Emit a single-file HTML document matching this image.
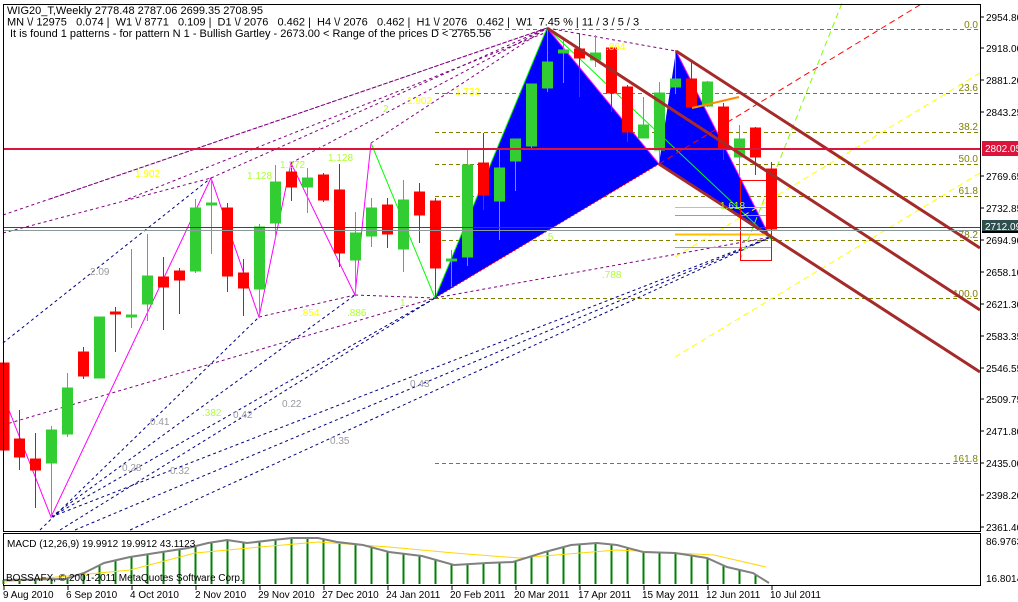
<!DOCTYPE html>
<html><head><meta charset="utf-8"><style>
body{margin:0;background:#fff}
svg{display:block}
text{font-family:"Liberation Sans",sans-serif}
</style></head><body>
<svg width="1018" height="602" viewBox="0 0 1018 602" xmlns="http://www.w3.org/2000/svg">
<rect width="1018" height="602" fill="#fff"/>
<!-- fib lines -->
<g stroke="#808000" stroke-dasharray="4,3" stroke-width="1">
<line x1="435" y1="29.5" x2="980" y2="29.5"/>
<line x1="435" y1="93.5" x2="980" y2="93.5"/>
<line x1="435" y1="132.5" x2="980" y2="132.5"/>
<line x1="435" y1="164.5" x2="980" y2="164.5"/>
<line x1="435" y1="196.5" x2="980" y2="196.5"/>
<line x1="435" y1="240.5" x2="980" y2="240.5"/>
<line x1="435" y1="298.5" x2="980" y2="298.5"/>
<line x1="435" y1="463.5" x2="980" y2="463.5"/>
</g>
<g fill="#808000" font-size="10" text-anchor="end">
<text x="978" y="28">0.0</text><text x="978" y="91">23.6</text><text x="978" y="130">38.2</text>
<text x="978" y="162">50.0</text><text x="978" y="194">61.8</text><text x="978" y="238">78.2</text>
<text x="978" y="297">100.0</text><text x="978" y="462">161.8</text>
</g>
<!-- purple dotted -->
<g stroke="#800080" stroke-dasharray="3,3" stroke-width="1" fill="none">
<line x1="50" y1="199" x2="547" y2="28"/>
<line x1="3" y1="215" x2="547" y2="28"/>
<line x1="128" y1="199" x2="547" y2="32"/>
<line x1="211" y1="178" x2="547" y2="28"/>
<line x1="291" y1="163" x2="547" y2="28"/>
<line x1="371" y1="143" x2="547" y2="28"/>
<line x1="3" y1="233" x2="211" y2="178"/>
<line x1="259" y1="317" x2="355" y2="295"/>
<line x1="355" y1="295" x2="435" y2="298"/>
<line x1="435" y1="298" x2="771" y2="237"/>
<line x1="3" y1="425" x2="435" y2="298"/>
<line x1="547" y1="28" x2="676" y2="51"/>
</g>
<!-- navy dashed -->
<g stroke="#000080" stroke-dasharray="3,3" stroke-width="1" fill="none">
<line x1="3" y1="343" x2="211" y2="178"/>
<line x1="40" y1="530" x2="259" y2="317"/>
<line x1="51" y1="517" x2="355" y2="295"/>
<line x1="51" y1="517" x2="435" y2="298"/>
<line x1="60" y1="530" x2="435" y2="298"/>
<line x1="75" y1="530" x2="771" y2="237"/>
<line x1="130" y1="530" x2="771" y2="237"/>
<line x1="51" y1="517" x2="771" y2="237"/>
</g>
<!-- blue triangles -->
<polygon points="435,298 547,28 659,164" fill="#0000ff"/>
<polygon points="659,164 676,51 771,239" fill="#0000ff"/>
<line x1="435" y1="298" x2="547" y2="28" stroke="#00ff00"/>
<line x1="547" y1="28" x2="659" y2="164" stroke="#ff00ff"/>
<line x1="676" y1="51" x2="771" y2="239" stroke="#ff00ff"/>
<line x1="435" y1="298" x2="659" y2="164" stroke="#ff0000" stroke-dasharray="2,2"/>
<line x1="547" y1="28" x2="771" y2="239" stroke="#00ff00" stroke-width="1"/>
<!-- zigzag -->
<polyline points="3,395 51,517 211,178 259,317 291,163 355,295 371,143" fill="none" stroke="#ff00ff"/>
<line x1="371" y1="143" x2="435" y2="298" stroke="#00ff00"/>
<!-- channel & rays -->
<line x1="659" y1="164" x2="923" y2="3" stroke="#ff0000" stroke-dasharray="6,4"/>
<line x1="740" y1="260" x2="842" y2="3" stroke="#7fff00" stroke-dasharray="6,4"/>
<line x1="675" y1="257" x2="980" y2="73" stroke="#ffff00" stroke-dasharray="6,4"/>
<line x1="675" y1="357" x2="980" y2="173" stroke="#ffff00" stroke-dasharray="6,4"/>
<!-- short horizontals -->
<line x1="675" y1="207.5" x2="771" y2="207.5" stroke="#ffc000"/>
<line x1="675" y1="215.5" x2="771" y2="215.5" stroke="#00e0e0"/>
<line x1="675" y1="234.5" x2="771" y2="234.5" stroke="#ffc000" stroke-width="2"/>
<line x1="675" y1="247.5" x2="771" y2="247.5" stroke="#00e0e0"/>
<!-- candles -->
<g id="c" stroke-width="1">
<g stroke="#ff0000" fill="#ff0000">
<line x1="3.5" y1="356" x2="3.5" y2="458"/><rect x="-1" y="363" width="10" height="87"/>
<line x1="19.5" y1="410" x2="19.5" y2="470"/><rect x="14.5" y="439" width="10" height="18"/>
<line x1="35.5" y1="433" x2="35.5" y2="508"/><rect x="30.5" y="459" width="10" height="11"/>
<line x1="83.5" y1="347" x2="83.5" y2="379"/><rect x="78.5" y="352" width="10" height="24"/>
<line x1="115.5" y1="307" x2="115.5" y2="352"/><rect x="110.5" y="312" width="10" height="2"/>
<line x1="163.5" y1="257" x2="163.5" y2="330"/><rect x="158.5" y="277" width="10" height="10"/>
<line x1="179.5" y1="268" x2="179.5" y2="314"/><rect x="174.5" y="271" width="10" height="9"/>
<line x1="227.5" y1="203" x2="227.5" y2="292"/><rect x="222.5" y="208" width="10" height="68"/>
<line x1="243.5" y1="259" x2="243.5" y2="316"/><rect x="238.5" y="273" width="10" height="15"/>
<line x1="291.5" y1="163" x2="291.5" y2="201"/><rect x="286.5" y="172" width="10" height="15"/>
<line x1="323.5" y1="173" x2="323.5" y2="202"/><rect x="318.5" y="175" width="10" height="25"/>
<line x1="339.5" y1="164" x2="339.5" y2="267"/><rect x="334.5" y="190" width="10" height="63"/>
<line x1="387.5" y1="198" x2="387.5" y2="248"/><rect x="382.5" y="205" width="10" height="29"/>
<line x1="419.5" y1="183" x2="419.5" y2="243"/><rect x="414.5" y="192" width="10" height="23"/>
<line x1="435.5" y1="198" x2="435.5" y2="298"/><rect x="430.5" y="201" width="10" height="67"/>
<line x1="483.5" y1="133" x2="483.5" y2="210"/><rect x="478.5" y="163" width="10" height="32"/>
<line x1="579.5" y1="33" x2="579.5" y2="97"/><rect x="574.5" y="49" width="10" height="9"/>
<line x1="611.5" y1="48" x2="611.5" y2="112"/><rect x="606.5" y="48" width="10" height="45"/>
<line x1="627.5" y1="85" x2="627.5" y2="142"/><rect x="622.5" y="87" width="10" height="45"/>
<line x1="691.5" y1="62" x2="691.5" y2="107"/><rect x="686.5" y="79" width="10" height="28"/>
<line x1="723.5" y1="103" x2="723.5" y2="160"/><rect x="718.5" y="107" width="10" height="41"/>
<line x1="755.5" y1="127" x2="755.5" y2="175"/><rect x="750.5" y="128" width="10" height="29"/>
<line x1="771.5" y1="162" x2="771.5" y2="233"/><rect x="766.5" y="169" width="10" height="60"/>
</g>
<g stroke="#32cd32" fill="#32cd32">
<line x1="51.5" y1="426" x2="51.5" y2="517"/><rect x="46.5" y="430" width="10" height="33"/>
<line x1="67.5" y1="373" x2="67.5" y2="437"/><rect x="62.5" y="388" width="10" height="46"/>
<line x1="99.5" y1="317" x2="99.5" y2="378"/><rect x="94.5" y="317" width="10" height="61"/>
<line x1="131.5" y1="249" x2="131.5" y2="328"/><rect x="126.5" y="315" width="10" height="2"/>
<line x1="147.5" y1="234" x2="147.5" y2="321"/><rect x="142.5" y="276" width="10" height="28"/>
<line x1="195.5" y1="199" x2="195.5" y2="273"/><rect x="190.5" y="208" width="10" height="63"/>
<line x1="211.5" y1="179" x2="211.5" y2="254"/><rect x="206.5" y="203" width="10" height="2"/>
<line x1="259.5" y1="224" x2="259.5" y2="317"/><rect x="254.5" y="227" width="10" height="62"/>
<line x1="275.5" y1="165" x2="275.5" y2="238"/><rect x="270.5" y="182" width="10" height="41"/>
<line x1="307.5" y1="168" x2="307.5" y2="213"/><rect x="302.5" y="178" width="10" height="9"/>
<line x1="355.5" y1="212" x2="355.5" y2="293"/><rect x="350.5" y="233" width="10" height="27"/>
<line x1="371.5" y1="198" x2="371.5" y2="247"/><rect x="366.5" y="208" width="10" height="28"/>
<line x1="403.5" y1="180" x2="403.5" y2="272"/><rect x="398.5" y="200" width="10" height="49"/>
<line x1="451.5" y1="250" x2="451.5" y2="287"/><rect x="446.5" y="259" width="10" height="2"/>
<line x1="467.5" y1="150" x2="467.5" y2="266"/><rect x="462.5" y="165" width="10" height="92"/>
<line x1="499.5" y1="148" x2="499.5" y2="240"/><rect x="494.5" y="168" width="10" height="33"/>
<line x1="515.5" y1="139" x2="515.5" y2="191"/><rect x="510.5" y="139" width="10" height="22"/>
<line x1="531.5" y1="84" x2="531.5" y2="150"/><rect x="526.5" y="84" width="10" height="62"/>
<line x1="547.5" y1="28" x2="547.5" y2="92"/><rect x="542.5" y="62" width="10" height="26"/>
<line x1="563.5" y1="37" x2="563.5" y2="83"/><rect x="558.5" y="50" width="10" height="3"/>
<line x1="595.5" y1="35" x2="595.5" y2="67"/><rect x="590.5" y="53" width="10" height="7"/>
<line x1="643.5" y1="97" x2="643.5" y2="138"/><rect x="638.5" y="125" width="10" height="13"/>
<line x1="659.5" y1="82" x2="659.5" y2="160"/><rect x="654.5" y="93" width="10" height="57"/>
<line x1="675.5" y1="50" x2="675.5" y2="94"/><rect x="670.5" y="79" width="10" height="8"/>
<line x1="707.5" y1="81" x2="707.5" y2="107"/><rect x="702.5" y="82" width="10" height="24"/>
<line x1="739.5" y1="125" x2="739.5" y2="177"/><rect x="734.5" y="139" width="10" height="18"/>
</g>
</g>
<!-- thick channel -->
<g stroke="#a52a2a" stroke-width="3">
<line x1="547" y1="28" x2="980" y2="310"/>
<line x1="676" y1="51" x2="980" y2="248"/>
<line x1="659" y1="164" x2="980" y2="372"/>
</g>
<line x1="692" y1="108" x2="739" y2="97" stroke="#ff8c00" stroke-width="2"/>
<rect x="740.5" y="180.5" width="31" height="80" fill="none" stroke="#ff0000"/>
<!-- horizontals -->
<line x1="3" y1="149" x2="980" y2="149" stroke="#dc143c" stroke-width="2"/>
<line x1="3" y1="227.5" x2="980" y2="227.5" stroke="#2f4f4f"/>
<line x1="3" y1="230.5" x2="980" y2="230.5" stroke="#8a9a9a"/>
<!-- labels -->
<g font-size="10" fill="#9a9aa0">
<text x="90" y="275">2.09</text><text x="150" y="425">0.41</text><text x="122" y="471">0.28</text>
<text x="170" y="474">0.32</text><text x="233" y="418">0.42</text><text x="282" y="407">0.22</text>
<text x="410" y="387">0.43</text><text x="330" y="444">0.35</text>
</g>
<g font-size="10" fill="#ffff00">
<text x="135" y="177">1.902</text><text x="407" y="104">1.902</text><text x="455" y="95">1.732</text>
<text x="300" y="316">.854</text><text x="606" y="50">.864</text>
</g>
<g font-size="10" fill="#adff2f">
<text x="247" y="179">1.128</text><text x="280" y="168">1.272</text><text x="328" y="161">1.128</text>
<text x="383" y="112">2</text><text x="202" y="416">.382</text><text x="347" y="316">.886</text>
<text x="400" y="306">1.</text><text x="545" y="240">.5</text><text x="602" y="278">.788</text>
<text x="720" y="209">1.618</text>
</g>
<!-- frames -->
<rect x="3.5" y="4.5" width="977" height="527" fill="none" stroke="#000"/>
<rect x="3.5" y="533.5" width="977" height="52" fill="none" stroke="#000"/>
<!-- header -->
<g font-size="11" fill="#000">
<text x="7" y="14">WIG20_T,Weekly  2778.48 2787.06 2699.35 2708.95</text>
<text x="7" y="25.5" xml:space="preserve">MN \/ 12975   0.074 |  W1 \/ 8771   0.109 |  D1 \/ 2076   0.462 |  H4 \/ 2076   0.462 |  H1 \/ 2076   0.462 |  W1  7.45 % | 11 / 3 / 5 / 3</text>
<text x="10" y="37">It is found 1 patterns  -  for pattern N 1 - Bullish Gartley - 2673.00 &lt; Range of the prices D &lt; 2765.56</text>
</g>
<!-- price axis -->
<g font-size="10" fill="#000">
<g stroke="#000"><line x1="980" y1="17" x2="984" y2="17"/><line x1="980" y1="48" x2="984" y2="48"/><line x1="980" y1="80" x2="984" y2="80"/><line x1="980" y1="112" x2="984" y2="112"/><line x1="980" y1="176" x2="984" y2="176"/><line x1="980" y1="208" x2="984" y2="208"/><line x1="980" y1="240" x2="984" y2="240"/><line x1="980" y1="272" x2="984" y2="272"/><line x1="980" y1="304" x2="984" y2="304"/><line x1="980" y1="336" x2="984" y2="336"/><line x1="980" y1="368" x2="984" y2="368"/><line x1="980" y1="399" x2="984" y2="399"/><line x1="980" y1="431" x2="984" y2="431"/><line x1="980" y1="463" x2="984" y2="463"/><line x1="980" y1="495" x2="984" y2="495"/><line x1="980" y1="527" x2="984" y2="527"/></g>
<text x="986" y="21">2954.80</text><text x="986" y="52">2918.00</text><text x="986" y="84">2881.20</text>
<text x="986" y="116">2843.25</text><text x="986" y="180">2769.65</text><text x="986" y="212">2732.85</text>
<text x="986" y="244">2694.90</text><text x="986" y="276">2658.10</text><text x="986" y="308">2621.30</text>
<text x="986" y="340">2583.35</text><text x="986" y="372">2546.55</text><text x="986" y="403">2509.75</text>
<text x="986" y="435">2471.80</text><text x="986" y="467">2435.00</text><text x="986" y="499">2398.20</text>
<text x="986" y="531">2361.40</text>
<rect x="982" y="141" width="36" height="15" fill="#dc143c"/><text x="985" y="152" fill="#fff">2802.05</text>
<rect x="982" y="220" width="36" height="11" fill="#2f4f4f"/><text x="985" y="230" fill="#fff">2712.09</text>
<rect x="982" y="231" width="36" height="2" fill="#000"/>
<text x="986" y="545">86.9763</text><text x="986" y="582">16.8014</text>
</g>
<!-- MACD -->
<g stroke="#008000" stroke-width="2">
<line x1="3.5" y1="584" x2="3.5" y2="580"/><line x1="19.5" y1="584" x2="19.5" y2="580"/><line x1="35.5" y1="584" x2="35.5" y2="579"/><line x1="51.5" y1="584" x2="51.5" y2="579"/><line x1="67.5" y1="584" x2="67.5" y2="578"/><line x1="83.5" y1="584" x2="83.5" y2="573"/><line x1="99.5" y1="584" x2="99.5" y2="565"/><line x1="115.5" y1="584" x2="115.5" y2="561"/><line x1="131.5" y1="584" x2="131.5" y2="557"/><line x1="147.5" y1="584" x2="147.5" y2="554"/><line x1="163.5" y1="584" x2="163.5" y2="552"/><line x1="179.5" y1="584" x2="179.5" y2="549"/><line x1="195.5" y1="584" x2="195.5" y2="547"/><line x1="211.5" y1="584" x2="211.5" y2="543"/><line x1="227.5" y1="584" x2="227.5" y2="540"/><line x1="243.5" y1="584" x2="243.5" y2="542"/><line x1="259.5" y1="584" x2="259.5" y2="541"/><line x1="275.5" y1="584" x2="275.5" y2="540"/><line x1="291.5" y1="584" x2="291.5" y2="538"/><line x1="307.5" y1="584" x2="307.5" y2="538"/><line x1="323.5" y1="584" x2="323.5" y2="540"/><line x1="339.5" y1="584" x2="339.5" y2="542"/><line x1="355.5" y1="584" x2="355.5" y2="544"/><line x1="371.5" y1="584" x2="371.5" y2="547"/><line x1="387.5" y1="584" x2="387.5" y2="552"/><line x1="403.5" y1="584" x2="403.5" y2="554"/><line x1="419.5" y1="584" x2="419.5" y2="556"/><line x1="435.5" y1="584" x2="435.5" y2="560"/><line x1="451.5" y1="584" x2="451.5" y2="565"/><line x1="467.5" y1="584" x2="467.5" y2="564"/><line x1="483.5" y1="584" x2="483.5" y2="563"/><line x1="499.5" y1="584" x2="499.5" y2="563"/><line x1="515.5" y1="584" x2="515.5" y2="561"/><line x1="531.5" y1="584" x2="531.5" y2="556"/><line x1="547.5" y1="584" x2="547.5" y2="552"/><line x1="563.5" y1="584" x2="563.5" y2="547"/><line x1="579.5" y1="584" x2="579.5" y2="544"/><line x1="595.5" y1="584" x2="595.5" y2="543"/><line x1="611.5" y1="584" x2="611.5" y2="544"/><line x1="627.5" y1="584" x2="627.5" y2="548"/><line x1="643.5" y1="584" x2="643.5" y2="552"/><line x1="659.5" y1="584" x2="659.5" y2="553"/><line x1="675.5" y1="584" x2="675.5" y2="553"/><line x1="691.5" y1="584" x2="691.5" y2="556"/><line x1="707.5" y1="584" x2="707.5" y2="558"/><line x1="723.5" y1="584" x2="723.5" y2="566"/><line x1="739.5" y1="584" x2="739.5" y2="570"/><line x1="755.5" y1="584" x2="755.5" y2="575"/>
</g>
<polyline fill="none" stroke="#ffd700" stroke-width="1" points="4,582 130,570 195,553 260,547 318,542 389,547 454,553 519,558 617,550 714,555 766,567"/>
<polyline fill="none" stroke="#808080" stroke-width="2" points="4,580 65,579 84,573 104,563 130,557 162,552 188,548 208,543 227,540 247,543 273,540 292,538 318,538 337,542 363,545 389,552 422,556 454,565 487,563 513,562 545,552 571,545 597,543 617,545 643,552 675,553 707,558 727,567 753,573 769,583"/>
<g font-size="10" fill="#000">
<text x="7" y="547">MACD (12,26,9) 19.9912 19.9912 43.1123</text>
<text x="6" y="581">BOSSAFX, © 2001-2011 MetaQuotes Software Corp.</text>
</g>
<!-- dates -->
<g font-size="10" fill="#000">
<g stroke="#000"><line x1="4" y1="586" x2="4" y2="590"/><line x1="68" y1="586" x2="68" y2="590"/><line x1="132" y1="586" x2="132" y2="590"/><line x1="196" y1="586" x2="196" y2="590"/><line x1="260" y1="586" x2="260" y2="590"/><line x1="324" y1="586" x2="324" y2="590"/><line x1="388" y1="586" x2="388" y2="590"/><line x1="452" y1="586" x2="452" y2="590"/><line x1="516" y1="586" x2="516" y2="590"/><line x1="580" y1="586" x2="580" y2="590"/><line x1="644" y1="586" x2="644" y2="590"/><line x1="708" y1="586" x2="708" y2="590"/><line x1="772" y1="586" x2="772" y2="590"/></g>
<text x="3" y="598">9 Aug 2010</text><text x="66" y="598">6 Sep 2010</text><text x="130" y="598">4 Oct 2010</text>
<text x="195" y="598">2 Nov 2010</text><text x="258" y="598">29 Nov 2010</text><text x="322" y="598">27 Dec 2010</text>
<text x="386" y="598">24 Jan 2011</text><text x="450" y="598">20 Feb 2011</text><text x="514" y="598">20 Mar 2011</text>
<text x="578" y="598">17 Apr 2011</text><text x="642" y="598">15 May 2011</text><text x="706" y="598">12 Jun 2011</text>
<text x="770" y="598">10 Jul 2011</text>
</g>
</svg>
</body></html>
